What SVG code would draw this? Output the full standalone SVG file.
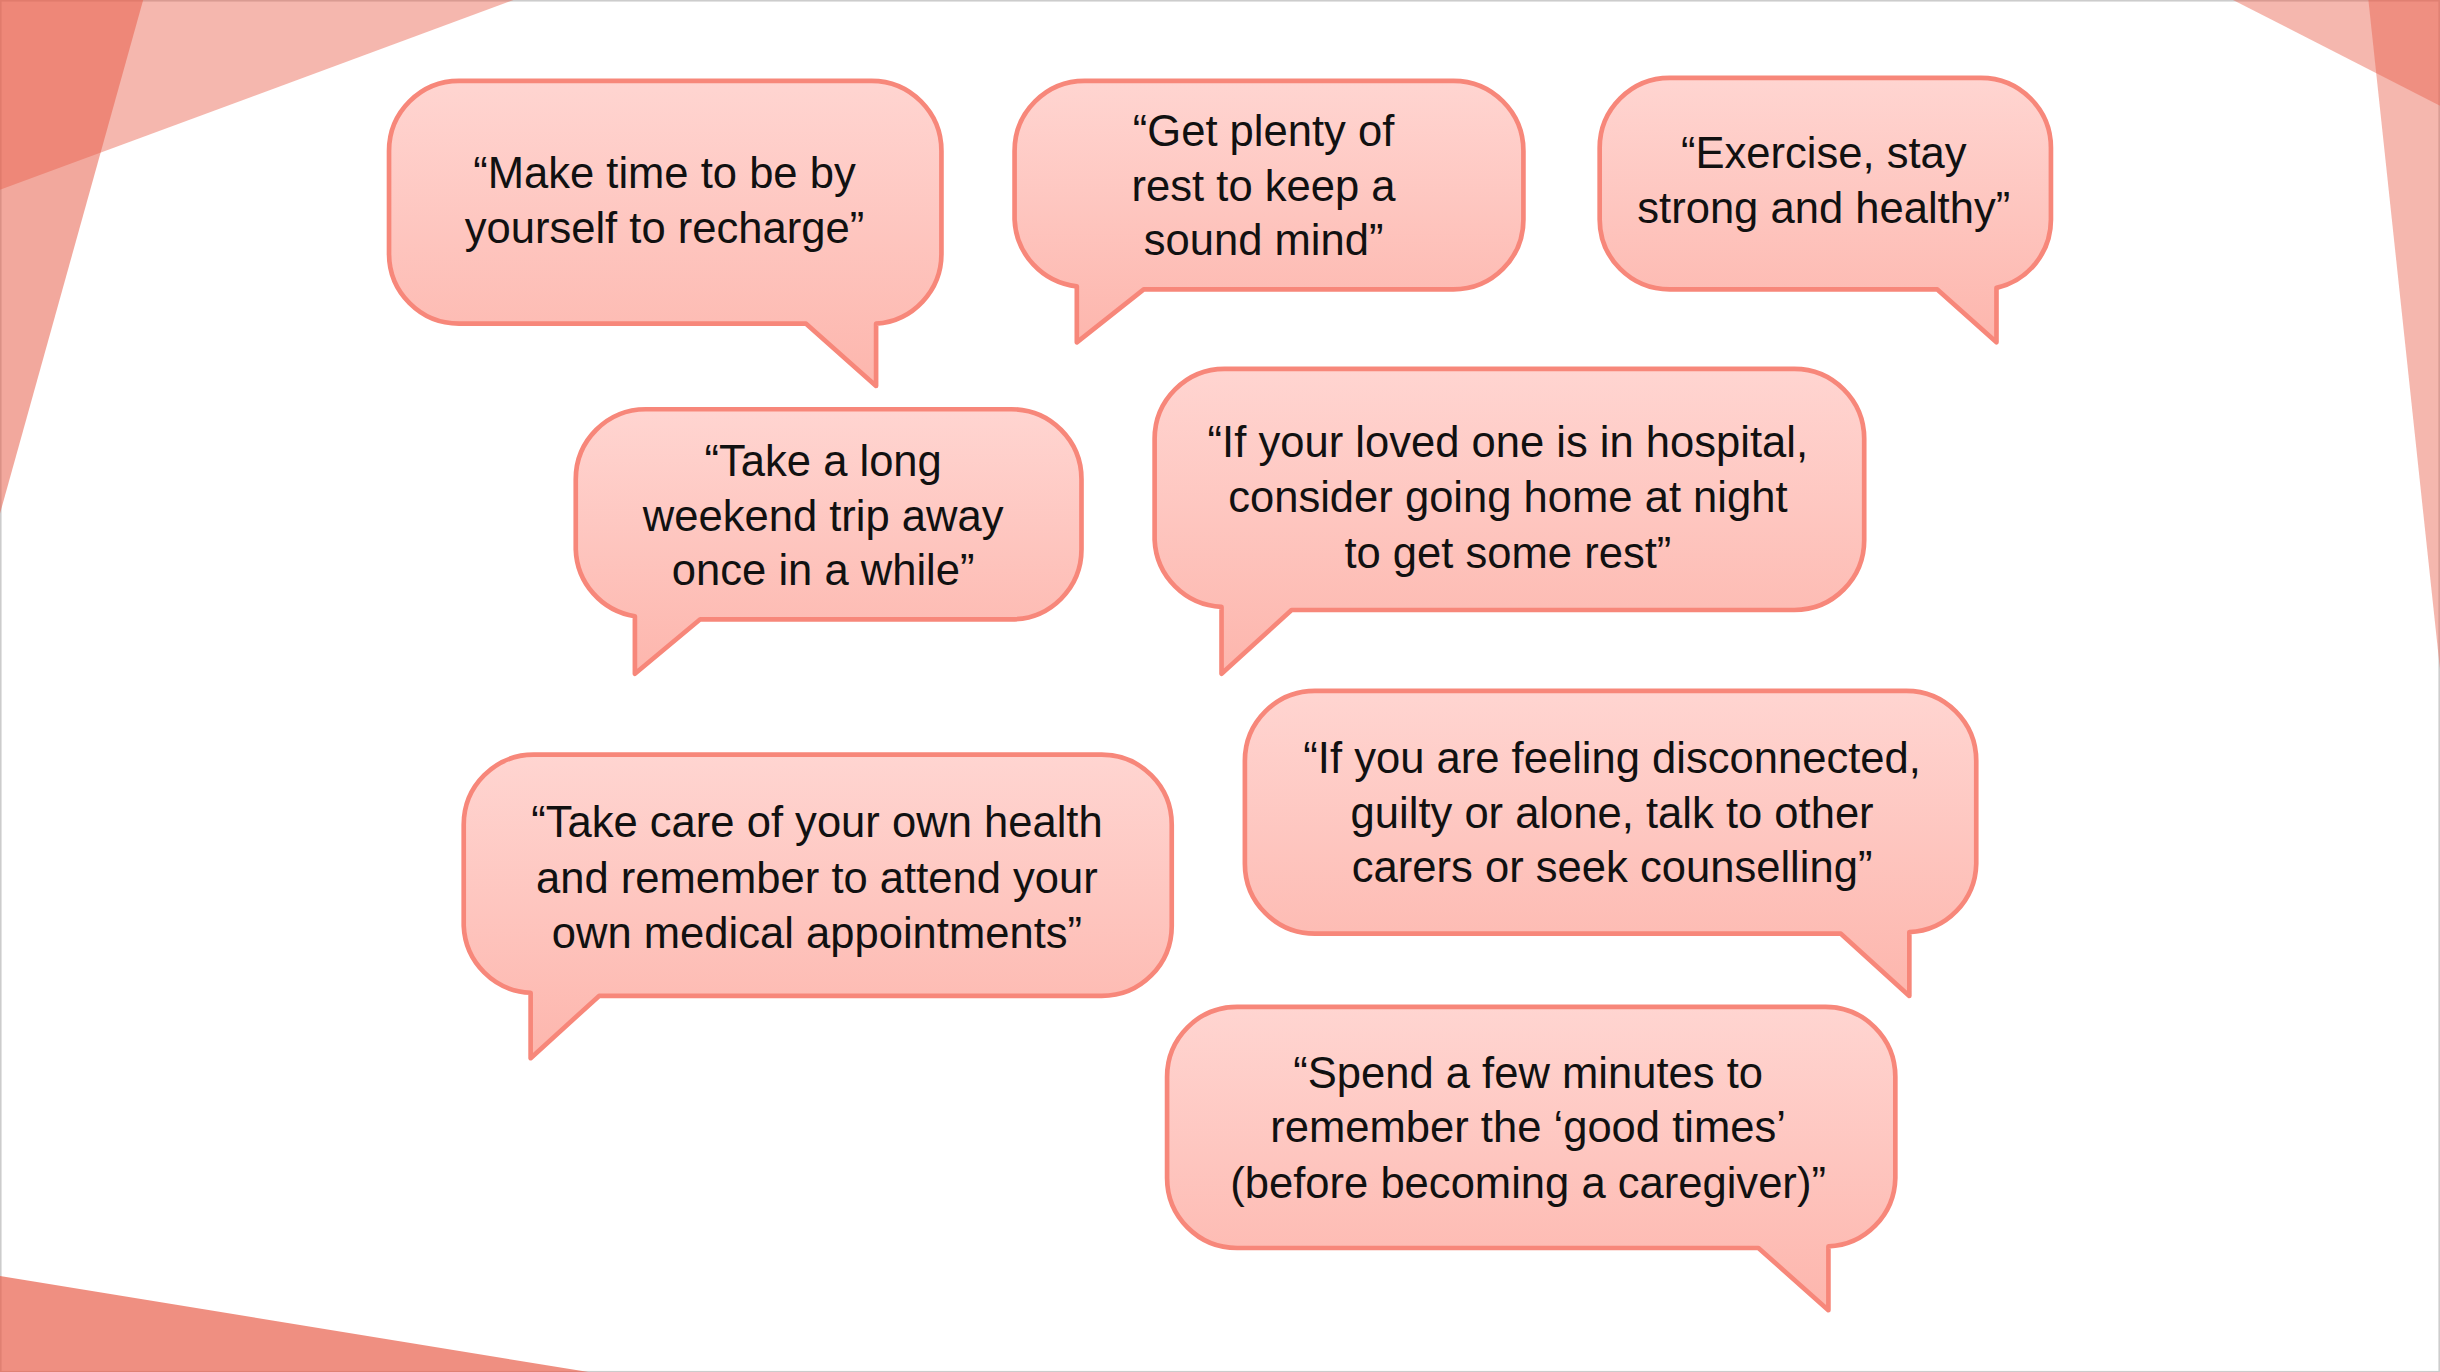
<svg xmlns="http://www.w3.org/2000/svg" width="2440" height="1372" viewBox="0 0 2440 1372">
<defs>
<linearGradient id="g" x1="0" y1="0" x2="0" y2="1"><stop offset="0" stop-color="#ffd5d1"/><stop offset="1" stop-color="#fdb6ad"/></linearGradient>
<style>
.b{fill:url(#g);stroke:#f7877a;stroke-width:3;stroke-linejoin:round}
.t{font-family:"Liberation Sans",Arial,sans-serif;font-size:28px;fill:#111;text-anchor:middle}
.d{fill:#e8604c}
</style>
</defs>
<rect width="2440" height="1372" fill="#fff"/>
<g transform="scale(1.5561)">
<rect x="0.5" y="0.5" width="1567" height="881" fill="none" stroke="#ccc"/>
<g id="decor">
<polygon class="d" opacity="0.45" points="0,0 330,0 0,122"/>
<polygon class="d" opacity="0.55" points="0,0 92,0 0,330"/>
<polygon class="d" opacity="0.45" points="1435,0 1568,0 1568,68"/>
<polygon class="d" opacity="0.45" points="1522,0 1568,0 1568,430"/>
<polygon class="d" opacity="0.7" points="0,820 0,882 380,882"/>
</g>
<g id="connectors"></g>
<g id="n1"><path class="b" d="M295,52 H560 A45,45 0 0 1 605,97 V163 A45,45 0 0 1 563,208 V248 L518,208 H295 A45,45 0 0 1 250,163 V97 A45,45 0 0 1 295,52 Z"/>
<text class="t"><tspan x="427" y="121">“Make time to be by</tspan><tspan x="427" y="156">yourself to recharge”</tspan></text></g>
<g id="n2"><path class="b" d="M697,52 H934 A45,45 0 0 1 979,97 V141 A45,45 0 0 1 934,186 H735 L692,220 V184 A45,45 0 0 1 652,141 V97 A45,45 0 0 1 697,52 Z"/>
<text class="t"><tspan x="812" y="94">“Get plenty of</tspan><tspan x="812" y="129">rest to keep a</tspan><tspan x="812" y="164">sound mind”</tspan></text></g>
<g id="n3"><path class="b" d="M1073,50 H1273 A45,45 0 0 1 1318,95 V141 A45,45 0 0 1 1283,185 V220 L1245,186 H1073 A45,45 0 0 1 1028,141 V95 A45,45 0 0 1 1073,50 Z"/>
<text class="t"><tspan x="1172" y="108">“Exercise, stay</tspan><tspan x="1172" y="143">strong and healthy”</tspan></text></g>
<g id="n4"><path class="b" d="M415,263 H650 A45,45 0 0 1 695,308 V353 A45,45 0 0 1 650,398 H450 L408,433 V396 A45,45 0 0 1 370,353 V308 A45,45 0 0 1 415,263 Z"/>
<text class="t"><tspan x="529" y="306">“Take a long</tspan><tspan x="529" y="341">weekend trip away</tspan><tspan x="529" y="376">once in a while”</tspan></text></g>
<g id="n5"><path class="b" d="M787,237 H1153 A45,45 0 0 1 1198,282 V347 A45,45 0 0 1 1153,392 H830 L785,433 V390 A45,45 0 0 1 742,347 V282 A45,45 0 0 1 787,237 Z"/>
<text class="t"><tspan x="969" y="294">“If your loved one is in hospital,</tspan><tspan x="969" y="329">consider going home at night</tspan><tspan x="969" y="365">to get some rest”</tspan></text></g>
<g id="n6"><path class="b" d="M343,485 H708 A45,45 0 0 1 753,530 V595 A45,45 0 0 1 708,640 H385 L341,680 V638 A45,45 0 0 1 298,595 V530 A45,45 0 0 1 343,485 Z"/>
<text class="t"><tspan x="525" y="538">“Take care of your own health</tspan><tspan x="525" y="574">and remember to attend your</tspan><tspan x="525" y="609">own medical appointments”</tspan></text></g>
<g id="n7"><path class="b" d="M845,444 H1225 A45,45 0 0 1 1270,489 V555 A45,45 0 0 1 1227,599 V640 L1183,600 H845 A45,45 0 0 1 800,555 V489 A45,45 0 0 1 845,444 Z"/>
<text class="t"><tspan x="1036" y="497">“If you are feeling disconnected,</tspan><tspan x="1036" y="532">guilty or alone, talk to other</tspan><tspan x="1036" y="567">carers or seek counselling”</tspan></text></g>
<g id="n8"><path class="b" d="M795,647 H1173 A45,45 0 0 1 1218,692 V757 A45,45 0 0 1 1175,801 V842 L1130,802 H795 A45,45 0 0 1 750,757 V692 A45,45 0 0 1 795,647 Z"/>
<text class="t"><tspan x="982" y="699">“Spend a few minutes to</tspan><tspan x="982" y="734">remember the ‘good times’</tspan><tspan x="982" y="770">(before becoming a caregiver)”</tspan></text></g>
</g>
</svg>
